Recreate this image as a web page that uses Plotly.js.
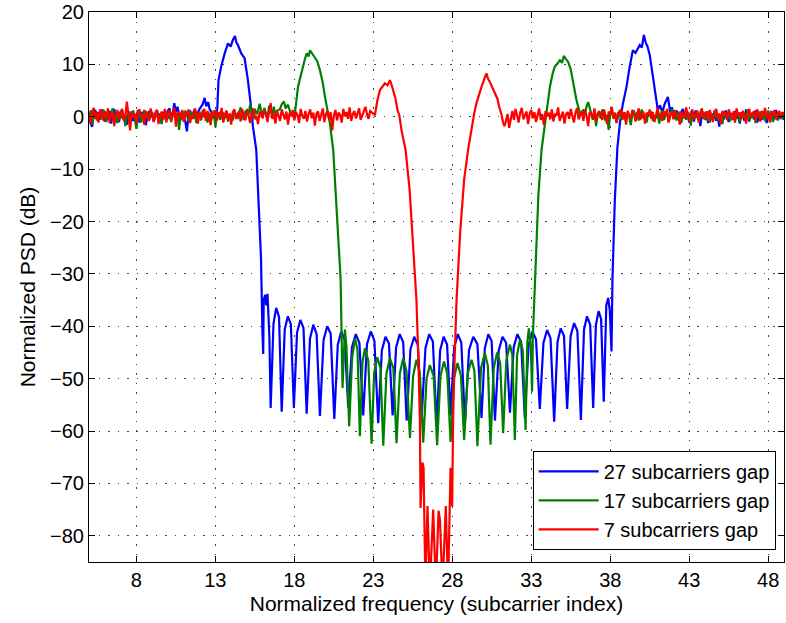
<!DOCTYPE html>
<html><head><meta charset="utf-8">
<script src="https://cdn.plot.ly/plotly-3.0.1.min.js"></script>
<style>html,body{margin:0;padding:0;background:#fff}</style>
</head><body><div id="chart" style="width:786px;height:623px"></div>
<script>
// ---------- data ----------
const seriesNames = ['27 subcarriers gap', '17 subcarriers gap', '7 subcarriers gap'];
const xTicks = [8, 13, 18, 23, 28, 33, 38, 43, 48];
const yTicks = [-80, -70, -60, -50, -40, -30, -20, -10, 0, 10, 20];
const noiseStep = 0.1;

// 27 subcarriers gap (blue)
const blueNoiseLStart = 5.0;
const blueNoiseL = [0.3,-1.2,-1.9,0.6,1.3,-0.2,0.9,-0.6,1.4,0.2,
-0.9,0.7,-0.1,1.1,-1.3,0.3,1.5,-0.5,0.1,-1.0,
0.8,1.2,-0.6,0.2,-1.5,0.7,0.1,1.0,-0.8,0.3,
-0.2,1.3,-1.1,0.5,0.9,-0.4,-1.6,0.2,1.1,-0.1,
0.7,-0.9,0.3,1.3,-0.2,0.6,-1.3,0.9,0.2,-0.6,
1.2,1.6,-0.4,0.7,2.6,0.9,1.9,0.3,-0.7,1.1,
0.2,-1.0,-2.8,0.5,1.2,-0.4,0.8,1.4,0.1,1.0,
1.5];
const blueEdgeLX = [12.09,12.2,12.32,12.42,12.55,12.63,12.8,12.95,13.04,13.12,13.2,13.37,13.59,13.8,13.97,14.1,14.24,14.33,14.43,14.64,14.85,15.06,15.23,15.38,15.59,15.7,15.89,15.98,16.03,16.06,16.15,16.22,16.3,16.42];
const blueEdgeLY = [1.9,2.4,3.6,2.0,2.8,1.5,0.6,0.0,0.5,1.5,7.0,9.6,12.1,14.0,13.4,14.6,15.4,14.2,13.7,12.1,11.2,7.0,2.6,-1.9,-6.3,-14,-27,-41,-45.3,-35,-34,-36,-33.8,-42];
const blueStopX = [16.50,16.68,16.85,17.03,17.20,17.39,17.59,17.78,17.97,18.17,18.38,18.58,18.78,18.99,19.20,19.41,19.62,19.85,20.08,20.30,20.53,20.75,20.97,21.19,21.41,21.65,21.89,22.12,22.36,22.60,22.84,23.07,23.31,23.54,23.77,23.99,24.22,24.44,24.67,24.89,25.11,25.35,25.59,25.82,26.06,26.30,26.54,26.77,27.01,27.23,27.45,27.67,27.89,28.12,28.35,28.57,28.80,29.06,29.33,29.59,29.85,30.06,30.28,30.49,30.70,30.94,31.18,31.41,31.65,31.89,32.12,32.36,32.59,32.83,33.07,33.30,33.54,33.77,34.00,34.22,34.45,34.66,34.86,35.07,35.27,35.49,35.71,35.92,36.14,36.34,36.53,36.73,36.92,37.09,37.26,37.42,37.59];
const blueStopY = [-55.6,-39.5,-36.5,-38.2,-56.3,-40.6,-38.1,-39.6,-55.6,-41.2,-38.8,-40.3,-56.7,-42.4,-39.7,-41.5,-57.1,-42.6,-40,-41.4,-57.7,-43.5,-41,-42.6,-55.5,-44,-41.5,-43.2,-57,-43.4,-41,-42.8,-58.5,-44.6,-42,-43.3,-57,-44.1,-41.5,-43,-58,-44.4,-42,-43.6,-57.5,-44.2,-41.5,-42.9,-59,-44.6,-42,-43.5,-57,-44,-41.5,-43.1,-58.5,-44.5,-42,-43.4,-57.5,-44.2,-41.5,-42.8,-58,-44.6,-42,-43.2,-56.5,-44,-41.5,-43,-57.5,-43.6,-41,-42.5,-55.8,-43.2,-40.7,-42.3,-58.2,-43,-40.4,-41.8,-55.8,-41.9,-39.4,-40.9,-57.9,-40.6,-38.1,-39.7,-55.6,-39.8,-37.1,-38.6,-54.4];
const blueEdgeRX = [37.75,37.87,37.97,38.08,38.14,38.29,38.45,38.61,38.8,39.03,39.2,39.43,39.6,39.87,40.0,40.13,40.25,40.35,40.5,40.61,40.75,40.89,41.01,41.15,41.3,41.45,41.65];
const blueEdgeRY = [-36,-34.6,-37,-44.8,-31,-15.9,-6,-1.2,2.5,5.7,9,12.7,12.2,13.7,13.2,15.6,14.1,13.5,11.8,9.6,6.5,3.2,1.3,2.2,0.8,2.5,3.8];
const blueNoiseRStart = 41.8;
const blueNoiseR = [0.8,1.8,0.6,-0.4,1.2,0.3,-0.8,0.9,1.5,0.1,
-0.5,0.8,-1.1,0.5,0.2,-0.9,1.2,-0.1,0.7,-1.8,
0.3,0.9,-0.6,0.1,-1.2,0.8,0.2,-0.4,1.1,-0.8,
0.5,-1.9,0.2,0.8,-0.5,1.2,0.1,-1.0,0.7,0.3,
-0.6,1.1,-0.3,0.2,-1.3,0.8,0.5,-0.8,1.4,0.0,
-0.9,0.7,0.3,-0.5,1.2,-1.1,0.2,0.9,-0.6,0.1,
0.8,-1.2,0.5,-0.1,1.1,-0.9,0.3,1.3,-0.7,0.2,
-0.4,0.8,-0.6];

// 17 subcarriers gap (green)
const greenNoiseLStart = 5.0;
const greenNoiseL = [-0.6,1.2,-1.5,0.3,0.8,-0.7,0.1,1.1,-0.4,1.4,
0.2,-1.0,0.5,-0.1,0.8,1.6,-0.6,0.2,-1.2,0.7,
0.9,-0.3,0.4,-1.8,0.1,1.1,-0.8,0.5,1.2,-0.4,
-2.3,0.2,0.7,-1.1,0.3,1.3,-0.3,0.8,-0.7,0.1,
0.9,-0.6,0.2,1.2,-0.8,0.3,-1.4,0.7,0.0,1.0,
-0.4,0.5,-1.0,0.2,1.5,-0.1,0.8,-2.5,0.3,0.7,
-0.6,1.2,0.1,-0.8,0.5,0.9,-0.3,0.4,-1.2,0.8,
0.2,-0.7,1.3,-0.1,0.5,-1.1,0.7,0.2,-0.4,1.2,
-2.0,0.3,0.9,-0.6,0.1,0.8,-0.3,1.0,-0.9,0.5,
0.2,-0.7,1.2,0.3,-0.4,0.8,1.8,0.2,-0.6,1.0,
1.3,0.4,2.3,0.8,-0.3,1.5,0.5,1.1,2.5,1.2,
0.3,1.7,0.7,-0.4,2.1,0.9,0.2,1.9,0.4,1.1,
1.4];
const greenEdgeLX = [17.1,17.2,17.34,17.45,17.6,17.75,17.9,18.04,18.23,18.4,18.53,18.65,18.78,18.9,18.99,19.1,19.2,19.30,19.45,19.62,19.8,19.94,20.1,20.25,20.46,20.6,20.75,20.93,21.05,21.12,21.20,21.3];
const greenEdgeLY = [1.5,2.4,2.9,1.6,2.3,0.8,0.2,0.7,5.7,7.8,9.6,10.8,12.1,11.5,12.7,12.2,11.6,11.2,10.6,8.9,6.5,3.8,1.5,-1.2,-6.3,-14,-22,-31,-51.8,-45,-40.6,-44];
const greenStopX = [21.47,21.66,21.84,22.0,22.15,22.31,22.47,22.68,22.89,23.05,23.25,23.45,23.63,23.83,24.05,24.27,24.47,24.68,24.89,25.1,25.32,25.52,25.73,25.95,26.16,26.37,26.58,26.82,27.04,27.25,27.47,27.68,27.89,28.1,28.33,28.55,28.75,28.98,29.22,29.4,29.59,29.82,30.06,30.25,30.42,30.62,30.84,31.03,31.22,31.42,31.65,31.8,31.96,32.1,32.28,32.46,32.64,32.75,32.85,32.97,33.05];
const greenStopY = [-59.1,-46,-42.3,-44.5,-61,-47,-44.2,-46.5,-62.4,-49,-45.9,-48,-62.8,-49,-46.1,-48,-62.3,-49,-46.1,-48.5,-61.3,-49.5,-46.4,-49,-62.2,-50,-47.4,-49.5,-62.7,-49.5,-46.7,-49,-62.1,-50,-47,-49.5,-61.7,-49,-46.4,-48.5,-62.9,-48,-45.1,-47.5,-62.6,-48,-45,-47,-60.4,-46.5,-43.5,-45.5,-61.7,-45.5,-42.6,-44.5,-59.8,-43,-40.4,-44,-52.5];
const greenEdgeRX = [33.1,33.23,33.45,33.65,33.86,34.0,34.18,34.35,34.49,34.65,34.81,34.95,35.06,35.2,35.33,35.5,35.65,35.86,36.08];
const greenEdgeRY = [-42,-31,-15,-6.3,-1.9,2,5.7,8.2,9.6,10.1,10.8,10.3,11.6,11,10.5,9,6.7,3.2,0.7];
const greenNoiseRStart = 36.2;
const greenNoiseR = [0.6,1.4,0.4,2.0,2.8,1.7,0.3,-0.6,1.2,-1.8,
0.2,0.9,-0.4,1.4,0.5,-0.8,0.3,-2.5,0.6,1.0,
-0.1,0.8,-1.2,0.3,1.3,-0.6,0.2,0.9,-1.0,0.6,
0.1,-1.6,0.5,1.2,-0.3,0.8,-0.7,0.3,1.4,-0.4,
0.2,-1.1,0.6,0.1,1.0,-0.8,0.3,-0.3,0.9,-1.3,
0.5,1.2,-0.6,0.2,0.8,-1.0,0.3,1.5,-0.1,0.6,
-0.7,0.2,1.0,-1.2,0.5,0.1,-0.4,0.9,0.3,-1.7,
0.8,0.2,-0.3,1.2,-0.8,0.5,0.0,0.9,-0.6,0.3,
1.0,-1.1,0.2,0.6,-0.4,1.3,-0.7,0.5,0.1,-1.4,
0.8,0.3,-0.3,1.0,-0.8,0.2,0.6,-0.6,1.2,0.1,
-1.0,0.5,0.9,-0.4,0.2,1.4,-0.7,0.3,-0.1,0.8,
-1.2,0.5,0.2,1.0,-0.4,0.6,-0.8,0.3,1.2,-0.3,
0.5,-1.0,0.8,0.1,-0.6,0.9,0.2,-0.4,0.6];

// 7 subcarriers gap (red)
const redNoiseLStart = 5.0;
const redNoiseL = [0.6,-1.3,1.0,1.7,-0.4,0.8,-1.1,1.4,0.2,-0.7,
1.1,-0.3,1.6,-1.2,0.5,0.9,-1.8,0.3,1.3,-0.6,
0.8,1.5,-0.8,0.2,2.9,-0.4,-2.6,1.0,-0.1,0.6,
-1.2,0.9,1.4,-0.3,0.5,-1.5,1.1,0.1,-0.8,1.6,
0.3,-1.0,0.8,1.3,-1.4,0.2,1.0,-0.6,1.5,-1.1,
0.6,1.2,-0.7,0.3,1.7,-1.9,0.5,0.9,-0.3,1.3,
-1.0,0.8,0.2,1.4,-1.2,0.3,-0.4,1.6,0.6,-1.3,
1.0,-0.3,0.5,1.5,-0.8,1.1,0.1,-1.6,0.9,0.3,
1.3,-0.7,0.8,-0.1,1.7,-1.1,0.2,1.2,-0.5,0.6,
-1.5,0.9,1.4,-0.4,0.5,1.0,-0.9,1.5,0.0,-0.7,
1.1,0.3,-1.2,0.8,1.6,-0.5,0.2,-1.4,1.0,0.6,
-0.3,1.3,0.5,-1.0,0.9,2.6,-0.4,0.6,-1.3,1.1,
0.2,-0.8,1.4,0.5,-0.5,1.0,-1.5,0.8,0.1,1.3,
-0.7,0.9,0.3,-1.2,1.5,0.2,-0.4,1.1,-0.9,0.5,
1.4,-0.3,0.8,-1.7,0.6,1.0,-0.8,0.3,1.6,-1.0,
0.5,1.1,-0.5,0.9,-2.6,0.2,1.3,-0.7,0.8,0.3,
-1.1,1.5,0.1,0.9,-0.4,1.8,-0.8,0.5,1.1,-0.3,
0.8,1.6,-0.6,0.2,1.0,1.9,0.5,-0.4,1.1,0.9,
0.6];
const redMidX = [23.10,23.25,23.42,23.6,23.73,23.9,24.05,24.15,24.26,24.4,24.53,24.65,24.78,25.04,25.3,25.5,25.73,25.85,25.95,25.99,26.11,26.18,26.30,26.43,26.58,26.79,26.96,27.13,27.22,27.38,27.59,27.73,27.89,27.99,28.05,28.15,28.27,28.5,28.75,29.0,29.22,29.38,29.53,29.7,29.85,30.0,30.16,30.27,30.37,30.55,30.70,30.85,30.97,31.1,31.22];
const redMidY = [0.3,3,5.1,5.8,6.4,6.0,7.0,6.2,5.1,3.5,1.3,0.2,-2.5,-6.3,-14,-23,-35,-46,-58,-74.7,-66,-67,-90,-74.3,-90,-75,-90,-75.2,-77,-90,-74.3,-90,-67,-74.4,-58,-46,-35,-22,-12,-6.3,-1.9,0.5,2.6,4.5,5.7,7,8.3,7.2,6.7,5.5,4.5,3.5,1.9,0.6,-1.2];
const redNoiseRStart = 31.3;
const redNoiseR = [-1.8,-0.7,0.5,-2.1,-0.4,1.1,-0.6,1.5,0.3,-1.1,
0.8,1.7,-0.5,0.2,1.0,-1.4,0.6,1.3,-0.3,0.9,
-1.0,0.3,1.6,-0.6,0.5,-1.6,1.1,0.1,0.8,-0.5,
1.4,-0.9,0.6,0.2,1.8,-0.8,0.3,1.0,-1.3,0.5,
0.9,-0.4,1.5,0.1,-1.1,0.8,1.7,-0.5,0.3,1.1,
-0.8,1.3,0.2,-1.8,0.9,0.5,-0.3,1.6,-1.0,0.6,
1.1,0.1,-0.6,1.4,0.3,-1.4,1.0,0.5,1.9,-0.4,
0.6,-1.1,0.9,0.2,1.5,-0.5,0.8,-1.5,1.1,0.3,
-0.3,1.3,0.6,-0.9,0.5,1.6,-0.6,0.2,1.0,-1.3,
0.8,0.3,1.4,-0.4,0.9,-1.0,0.5,1.7,-0.1,0.6,
-0.8,1.1,0.2,1.5,-1.1,0.5,0.9,-0.5,1.3,0.1,
0.6,-1.5,1.0,0.3,-0.3,1.8,0.5,-0.9,0.8,1.4,
-0.5,0.2,1.1,-1.1,0.8,1.6,-0.4,0.5,1.0,-0.8,
1.3,0.2,-1.0,0.9,1.5,-0.3,0.6,-1.4,1.1,0.3,
0.8,-0.6,1.4,0.5,-0.4,1.0,-1.1,1.6,0.2,0.8,
-0.5,1.1,0.3,-1.3,0.9,1.5,-0.3,0.6,1.0,-0.8,
1.4,0.5,-0.9,1.1,0.2,1.7,-0.4,0.8,-1.1,1.0,
0.3,1.3,-0.5,0.6,1.1,-0.3,0.9,0.5];

// ---------- assembly ----------
function noiseSeg(start, vals) {
  return { x: vals.map((_, i) => +(start + i * noiseStep).toFixed(2)), y: vals };
}
function join(parts) {
  const x = [], y = [];
  parts.forEach(p => { x.push(...p.x); y.push(...p.y); });
  return { x, y };
}
const blue = join([noiseSeg(blueNoiseLStart, blueNoiseL), {x: blueEdgeLX, y: blueEdgeLY},
  {x: blueStopX, y: blueStopY}, {x: blueEdgeRX, y: blueEdgeRY}, noiseSeg(blueNoiseRStart, blueNoiseR)]);
const green = join([noiseSeg(greenNoiseLStart, greenNoiseL), {x: greenEdgeLX, y: greenEdgeLY},
  {x: greenStopX, y: greenStopY}, {x: greenEdgeRX, y: greenEdgeRY}, noiseSeg(greenNoiseRStart, greenNoiseR)]);
const red = join([noiseSeg(redNoiseLStart, redNoiseL), {x: redMidX, y: redMidY}, noiseSeg(redNoiseRStart, redNoiseR)]);

const colors = ['#0000ff', '#008000', '#ff0000'];
const traces = [blue, green, red].map((s, i) => ({
  type: 'scatter', mode: 'lines', x: s.x, y: s.y, name: seriesNames[i],
  line: { color: colors[i], width: 2.2 }
}));

const FONT = 'Liberation Sans, Arial, Helvetica, sans-serif';
const axisCommon = {
  showline: true, linecolor: '#000', linewidth: 1, mirror: 'ticks',
  ticks: 'inside', ticklen: 6, tickcolor: '#000', tickwidth: 1,
  showgrid: true, gridcolor: '#444', griddash: '1.5px,8px', gridwidth: 1,
  zeroline: false, tickfont: { family: FONT, size: 20, color: '#000' }
};
const layout = {
  width: 786, height: 623,
  margin: { l: 89, r: 2, t: 12, b: 61 },
  paper_bgcolor: '#fff', plot_bgcolor: '#fff',
  font: { family: FONT, color: '#000' },
  showlegend: true,
  xaxis: Object.assign({}, axisCommon, {
    range: [5, 49], tickmode: 'array', tickvals: xTicks, ticktext: xTicks.map(String),
    title: { text: 'Normalized frequency (subcarrier index)', font: { family: FONT, size: 21, color: '#000' }, standoff: 6 }
  }),
  yaxis: Object.assign({}, axisCommon, {
    range: [-85, 20], tickmode: 'array', tickvals: yTicks, ticktext: yTicks.map(v => v < 0 ? '\u2212' + Math.abs(v) : String(v)),
    title: { text: 'Normalized PSD (dB)', font: { family: FONT, size: 21, color: '#000' }, standoff: 8 }
  }),
  legend: {
    x: 0.988, y: 0.022, xanchor: 'right', yanchor: 'bottom',
    bgcolor: '#fff', bordercolor: '#000', borderwidth: 1,
    font: { family: FONT, size: 20, color: '#000' },
    itemwidth: 60, tracegroupgap: 0
  }
};
Plotly.newPlot('chart', traces, layout, { displayModeBar: false, staticPlot: true });
</script></body></html>
